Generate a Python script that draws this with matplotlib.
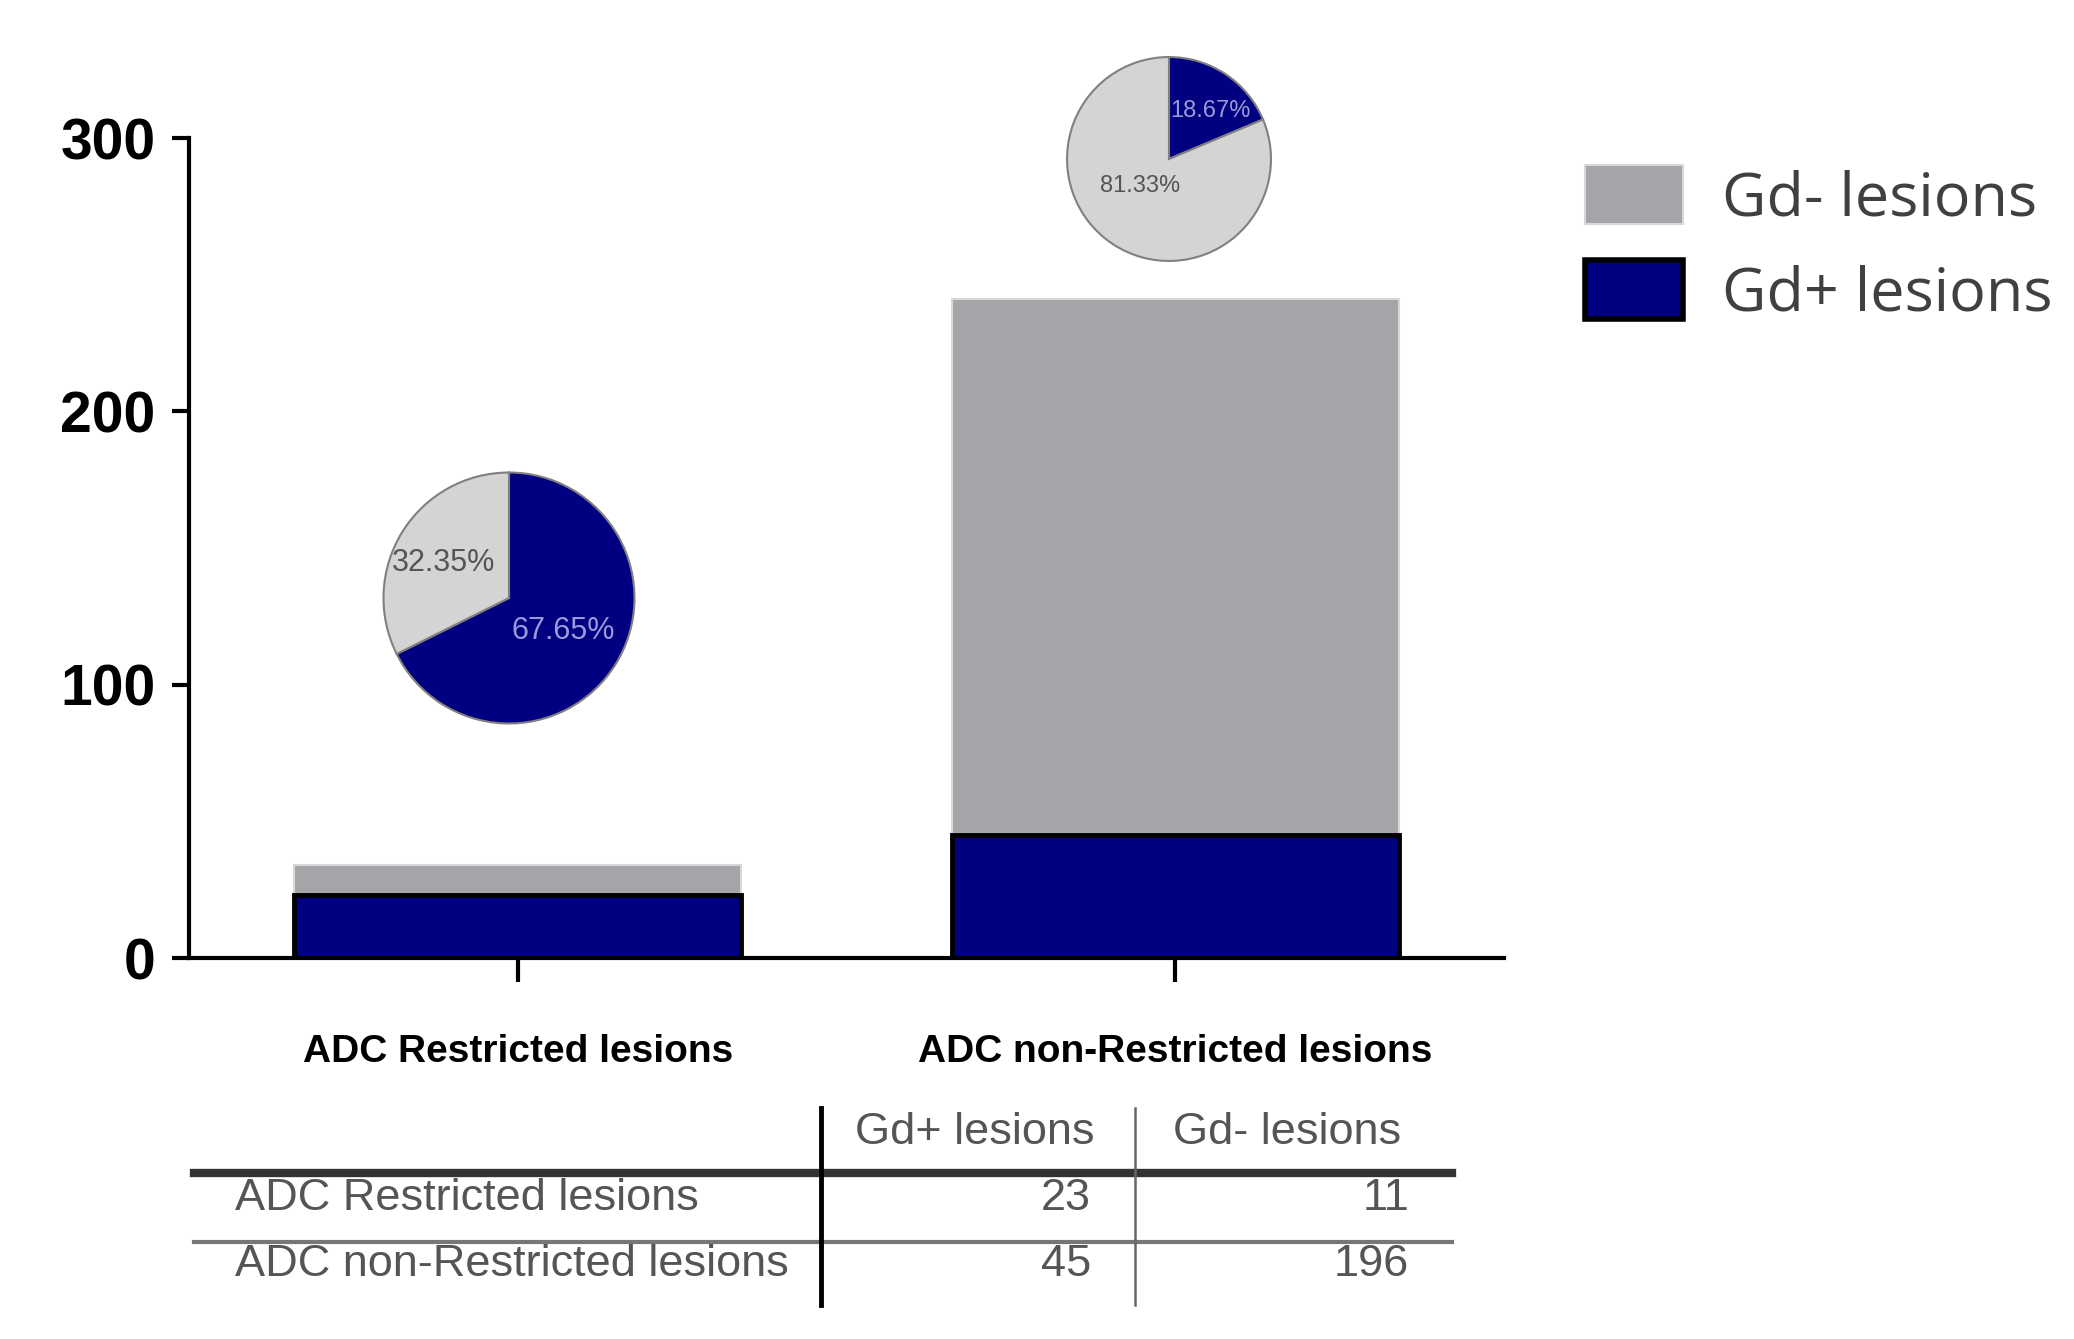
import matplotlib.pyplot as plt
from matplotlib.patches import Patch
from matplotlib.lines import Line2D

# data
categories = ['ADC Restricted lesions', 'ADC non-Restricted lesions']
gd_pos = [23, 45]
gd_neg = [11, 196]
series_names = ['Gd+ lesions', 'Gd- lesions']
yticks = [0, 100, 200, 300]

navy = '#000080'
gray_bar = '#a4a4a9'
gray_pie = '#d4d4d4'

W, H = 2074, 1339
fig = plt.figure(figsize=(W / 100, H / 100), dpi=100)


def fx(x):
    return x / W


def fy(y):
    return 1 - y / H


# bar chart
ax = fig.add_axes([fx(189), fy(958), fx(1504) - fx(189), fy(138) - fy(958)])
x = list(range(len(categories)))
ax.bar(x, gd_pos, width=0.68, color=navy, edgecolor='black', linewidth=3.5, zorder=3)
ax.bar(x, gd_neg, bottom=gd_pos, width=0.68, color=gray_bar, edgecolor='#d8d8d8',
       linewidth=1.5, zorder=2)
ax.set_xlim(-0.5, 1.5)
ax.set_ylim(0, 300)
ax.set_yticks(yticks)
ax.set_xticks(x)
ax.set_xticklabels(categories, fontsize=28, fontweight='bold', family='Liberation Sans')
for lab in ax.get_yticklabels():
    lab.set_family('Liberation Sans')
    lab.set_fontweight('bold')
    lab.set_fontsize(41)
ax.tick_params(axis='y', length=12, width=3, pad=12, direction='out')
ax.tick_params(axis='x', length=17, width=3, pad=38, direction='out')
for s in ['top', 'right']:
    ax.spines[s].set_visible(False)
for s in ['left', 'bottom']:
    ax.spines[s].set_linewidth(3)

# legend
handles = [Patch(facecolor=gray_bar, edgecolor='#d8d8d8', linewidth=1.5, label=series_names[1]),
           Patch(facecolor=navy, edgecolor='black', linewidth=4, label=series_names[0])]
leg = fig.legend(handles=handles, loc='upper left', bbox_to_anchor=(fx(1585), fy(165)),
                 frameon=False, borderpad=0, borderaxespad=0, handlelength=1.6,
                 handleheight=1.12, handletextpad=0.65, labelspacing=0.5,
                 prop={'family': 'Open Sans', 'size': 44})
for t in leg.get_texts():
    t.set_color('#404040')

# pies
pie_boxes = [(509, 598, 128), (1169, 159, 104)]
pie_font = [22, 17]
# label offsets inside each pie (fraction of radius)
pie_label_pos = [[(0.43, -0.26), (-0.52, 0.28)], [(0.41, 0.47), (-0.28, -0.26)]]
for i, (cx, cy, r) in enumerate(pie_boxes):
    pax = fig.add_axes([fx(cx - r), fy(cy + r), fx(2 * r), fy(0) - fy(2 * r)])
    vals = [gd_pos[i], gd_neg[i]]
    wedges, texts, autot = pax.pie(vals, colors=[navy, gray_pie], startangle=90,
                                   counterclock=False, autopct='%1.2f%%', pctdistance=0.55,
                                   wedgeprops={'edgecolor': '#808080', 'linewidth': 1.5})
    autot[0].set_color('#9a9ad8')
    autot[1].set_color('#555555')
    for t, p in zip(autot, pie_label_pos[i]):
        t.set_fontsize(pie_font[i])
        t.set_family('Liberation Sans')
        t.set_position(p)
    pax.set_xlim(-1.02, 1.02)
    pax.set_ylim(-1.02, 1.02)
    pax.set_aspect('equal')

# table below
tcol = '#555555'
tfont = {'family': 'Liberation Sans', 'size': 32.5, 'color': tcol}
fig.add_artist(Line2D([fx(194), fx(1452)], [fy(1173), fy(1173)], color='#333333', lw=6))
fig.add_artist(Line2D([fx(194), fx(1452)], [fy(1242), fy(1242)], color='#777777', lw=3))
fig.add_artist(Line2D([fx(821), fx(821)], [fy(1108), fy(1305)], color='black', lw=3.5))
fig.add_artist(Line2D([fx(1135), fx(1135)], [fy(1108), fy(1305)], color='#666666', lw=1.8))
fig.text(fx(975), fy(1132), series_names[0], ha='center', va='center', **tfont)
fig.text(fx(1287), fy(1132), series_names[1], ha='center', va='center', **tfont)
row_y = [1198, 1264]
for i, cat in enumerate(categories):
    fig.text(fx(235), fy(row_y[i]), cat, ha='left', va='center', **tfont)
    fig.text(fx(1091), fy(row_y[i]), str(gd_pos[i]), ha='right', va='center', **tfont)
    fig.text(fx(1409), fy(row_y[i]), str(gd_neg[i]), ha='right', va='center', **tfont)

fig.savefig('out.png', dpi=100)
